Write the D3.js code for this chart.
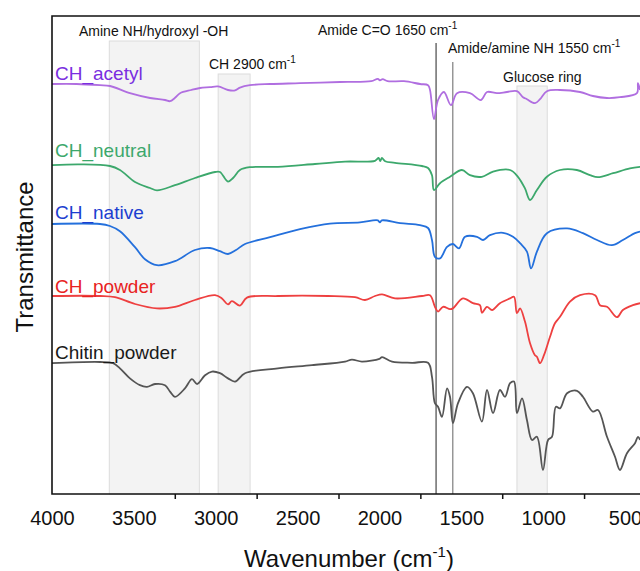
<!DOCTYPE html>
<html>
<head>
<meta charset="utf-8">
<script src="https://cdn.jsdelivr.net/npm/d3@7"></script>
<style>
  body { margin: 0; background: #fff; }
  text { font-family: "Liberation Sans", Arial, sans-serif; }
</style>
</head>
<body>
<div id="chart"></div>
<script>
"use strict"

// wavenumber (cm-1), transmittance (a.u., stacked)
var acetyl = [[4000,102.5],[3850,102.5],[3707,102.2],[3646,102],[3524,100.2],[3401,99],[3310,98.5],[3279,98.2],[3250,99],[3218,100.2],[3150,101],[3096,101.5],[3035,101.7],[2986,101.9],[2925,101],[2882,100.9],[2852,101.6],[2791,102.2],[2668,102.5],[2485,102.7],[2241,103],[2050,103.2],[2010,103.8],[1997,103.4],[1980,103.7],[1950,103.2],[1850,103.2],[1752,102.5],[1703,102.2],[1691,101],[1667,93.7],[1642,98.5],[1606,100.5],[1563,97.2],[1526,100.2],[1447,100.2],[1380,98.5],[1343,100.5],[1282,100.2],[1221,100.5],[1160,100.7],[1123,99.2],[1099,98.7],[1050,97.7],[1019,98.7],[977,100.7],[897,101],[775,100.5],[696,99.5],[610,99],[531,99.2],[427,100.2],[421,102.7],[408,101]];

var neutral = [[4000,82.2],[3829,82.4],[3646,82],[3585,81],[3493,78],[3401,76.5],[3359,75.9],[3249,77.2],[3127,79],[3004,80.5],[2974,80.5],[2925,78.1],[2894,79],[2852,81],[2791,81.7],[2620,81.8],[2394,82.5],[2210,83.1],[2027,83.3],[2005,84],[1995,83.2],[1985,84],[1965,83.2],[1905,82.8],[1740,82],[1703,81.5],[1679,79.7],[1667,76],[1630,77.7],[1569,79.3],[1496,81],[1447,79.7],[1374,79.3],[1306,80.6],[1202,81],[1154,79.3],[1111,76.4],[1080,73.5],[1038,76],[977,79.3],[897,81],[794,81],[714,79.7],[665,79.2],[573,80.2],[470,81.4],[408,81.8]];

var native = [[4000,67.5],[3707,67.5],[3646,67],[3585,65.7],[3493,61.7],[3432,58.7],[3359,57.2],[3249,58.2],[3127,61],[3035,61.5],[2974,60.7],[2925,60],[2876,61],[2821,62.5],[2668,64.2],[2485,66.2],[2302,67.6],[2119,67.9],[2010,68.4],[1997,67.9],[1985,68.4],[1874,67.7],[1752,67.2],[1703,66.5],[1679,63.5],[1661,59.3],[1630,58.9],[1587,61.8],[1551,62.5],[1514,61.4],[1477,64.3],[1404,64.3],[1367,63.5],[1325,64.7],[1245,65.3],[1184,64.3],[1141,62.7],[1099,60.6],[1074,56.4],[1038,60.6],[977,65.2],[854,66.4],[757,65.2],[671,63.5],[580,62.2],[513,63.5],[439,65.2],[408,65.6]];

var powder = [[4000,49.5],[3707,49.5],[3615,49.2],[3493,47.5],[3359,46.4],[3249,46.8],[3127,48.5],[3004,49.7],[2962,48.9],[2925,47.4],[2901,48.2],[2852,47.1],[2809,49.1],[2620,49.5],[2314,49.5],[2149,49.2],[2088,48.5],[2027,49.5],[1984,49.9],[1905,48.9],[1740,49.5],[1691,49.7],[1661,46.8],[1642,45.6],[1612,46.8],[1569,46.2],[1551,46.4],[1490,48.9],[1429,47.7],[1386,47.2],[1374,45.3],[1343,46.8],[1312,46],[1264,47.7],[1202,48.9],[1178,49.3],[1160,45.2],[1141,46.4],[1111,43.1],[1080,37.7],[1050,34.7],[1038,34.3],[1019,32.7],[995,34.7],[958,39.3],[928,42.7],[897,44.3],[836,48.1],[775,49.7],[683,49.7],[653,47.2],[610,46.8],[549,44.2],[513,46],[452,47.2],[408,47.7]];

var chitin = [[4000,32.7],[3707,33],[3627,32.7],[3585,31.4],[3524,28.9],[3463,27.2],[3420,26.8],[3371,27.5],[3310,27.2],[3279,25.6],[3249,24.3],[3188,26.4],[3145,28.7],[3114,27.5],[3065,29.7],[3023,30.6],[2974,30.2],[2925,28.9],[2882,28.1],[2821,30.2],[2620,31.4],[2412,32.2],[2210,33.1],[2168,33.6],[2107,33.1],[2000,33.8],[1984,34.2],[1923,33.1],[1801,32.8],[1703,32.8],[1679,29.3],[1661,22.7],[1642,21.8],[1618,19.3],[1587,26.4],[1569,24.3],[1551,17.7],[1520,22.7],[1465,26.8],[1429,25.2],[1374,18.1],[1343,26],[1306,20.2],[1264,26],[1233,24.3],[1202,27.7],[1178,28.1],[1160,20.2],[1129,23.9],[1099,18.5],[1068,13.5],[1038,14.3],[1001,6],[970,13.5],[946,14.3],[922,21.8],[897,21.4],[854,25.2],[793,25.8],[757,24.3],[696,20.6],[665,21],[610,14.3],[561,9.3],[531,6],[488,10.2],[439,12.7],[421,14.3],[408,13.5]];

var seriesNames = ["CH_acetyl","CH_neutral","CH_native","CH_powder","Chitin_powder"];
var seriesColors = ["#b06ee0","#3ca86c","#2470dc","#ee4040","#555555"];
var labelColors = ["#7a2ee0","#3ca86c","#1c3ed0","#e82222","#1a1a1a"];
var labelY = [80,157,219,293,359];

var bands = [[3650,3100],[2985,2790],[1160,975]];
var bandTop = [41,74,86];
var peakLines = [1654,1552];
var lineTop = [43,62];

var tickLabels = [4000,3500,3000,2500,2000,1500,1000,500];
var tickMarks = [3250,2750,2250,1750,1250,750];

var W = 640, H = 571;
var svg = d3.select("#chart").append("svg")
  .attr("width", W).attr("height", H);

var plotLeft = 52, plotTop = 16, plotBottom = 494;

var x = d3.scaleLinear().domain([4000, 500]).range([plotLeft, 625]);
var y = d3.scaleLinear().domain([0, 120]).range([plotBottom, 14]);
var rightEdge = x(380);

// shaded bands
bands.forEach(function(b, i){
  svg.append("rect")
    .attr("x", x(b[0])).attr("width", x(b[1]) - x(b[0]))
    .attr("y", bandTop[i]).attr("height", plotBottom - bandTop[i])
    .attr("fill", "#f3f3f3").attr("stroke", "#dcdcdc").attr("stroke-width", 1);
});

// peak lines
peakLines.forEach(function(p, i){
  svg.append("line")
    .attr("x1", x(p)).attr("x2", x(p))
    .attr("y1", lineTop[i]).attr("y2", plotBottom)
    .attr("stroke", i == 0 ? "#555" : "#888").attr("stroke-width", 1.3);
});

// spectra
var spec = d3.line()
  .curve(d3.curveCatmullRom.alpha(0.5))
  .x(function(d){ return x(d[0]) })
  .y(function(d){ return y(d[1]) });

[acetyl, neutral, native, powder, chitin].forEach(function(s, i){
  svg.append("path")
    .datum(s)
    .attr("fill", "none")
    .attr("stroke", seriesColors[i])
    .attr("stroke-width", 1.8)
    .attr("stroke-linejoin", "round")
    .attr("d", spec);
  svg.append("text")
    .attr("x", 55).attr("y", labelY[i])
    .attr("font-size", 19)
    .attr("fill", labelColors[i])
    .text(seriesNames[i]);
});

// frame
svg.append("path")
  .attr("d", "M" + rightEdge + "," + plotTop + "H" + plotLeft + "V" + plotBottom + "H" + rightEdge)
  .attr("fill", "none").attr("stroke", "#111").attr("stroke-width", 1.6);

// x axis ticks and labels
var ax = svg.append("g").attr("transform", "translate(0," + plotBottom + ")");
ax.call(d3.axisBottom(x).tickValues(tickMarks).tickFormat("").tickSize(5).tickSizeOuter(0));
var ax2 = svg.append("g").attr("transform", "translate(0," + plotBottom + ")");
ax2.call(d3.axisBottom(x).tickValues(tickLabels).tickFormat(d3.format("d")).tickSize(0).tickPadding(17));
ax.select(".domain").remove();
ax2.select(".domain").remove();
ax.selectAll("line").attr("stroke", "#111").attr("stroke-width", 1.5);
ax2.selectAll("text")
  .attr("font-size", 20)
  .attr("font-family", "Liberation Sans, Arial, sans-serif")
  .attr("fill", "#111");

// axis titles
var xt = svg.append("text")
  .attr("x", 349).attr("y", 567)
  .attr("text-anchor", "middle")
  .attr("font-size", 24).attr("fill", "#111");
xt.append("tspan").text("Wavenumber (cm");
xt.append("tspan").attr("dy", -10).attr("font-size", 15).text("-1");
xt.append("tspan").attr("dy", 10).text(")");

svg.append("text")
  .attr("transform", "translate(33,257) rotate(-90)")
  .attr("text-anchor", "middle")
  .attr("font-size", 24).attr("fill", "#111")
  .text("Transmittance");

// annotations
function note(tx, ty, main, sup){
  var t = svg.append("text").attr("x", tx).attr("y", ty)
    .attr("font-size", 14).attr("fill", "#111");
  t.append("tspan").text(main);
  if (sup) t.append("tspan").attr("dy", -6).attr("font-size", 10).text(sup);
}
note(79, 36, "Amine NH/hydroxyl -OH");
note(209, 69, "CH 2900 cm", "-1");
note(318, 35, "Amide C=O 1650 cm", "-1");
note(448, 53, "Amide/amine NH 1550 cm", "-1");
note(503, 82, "Glucose ring");
</script>
</body>
</html>
